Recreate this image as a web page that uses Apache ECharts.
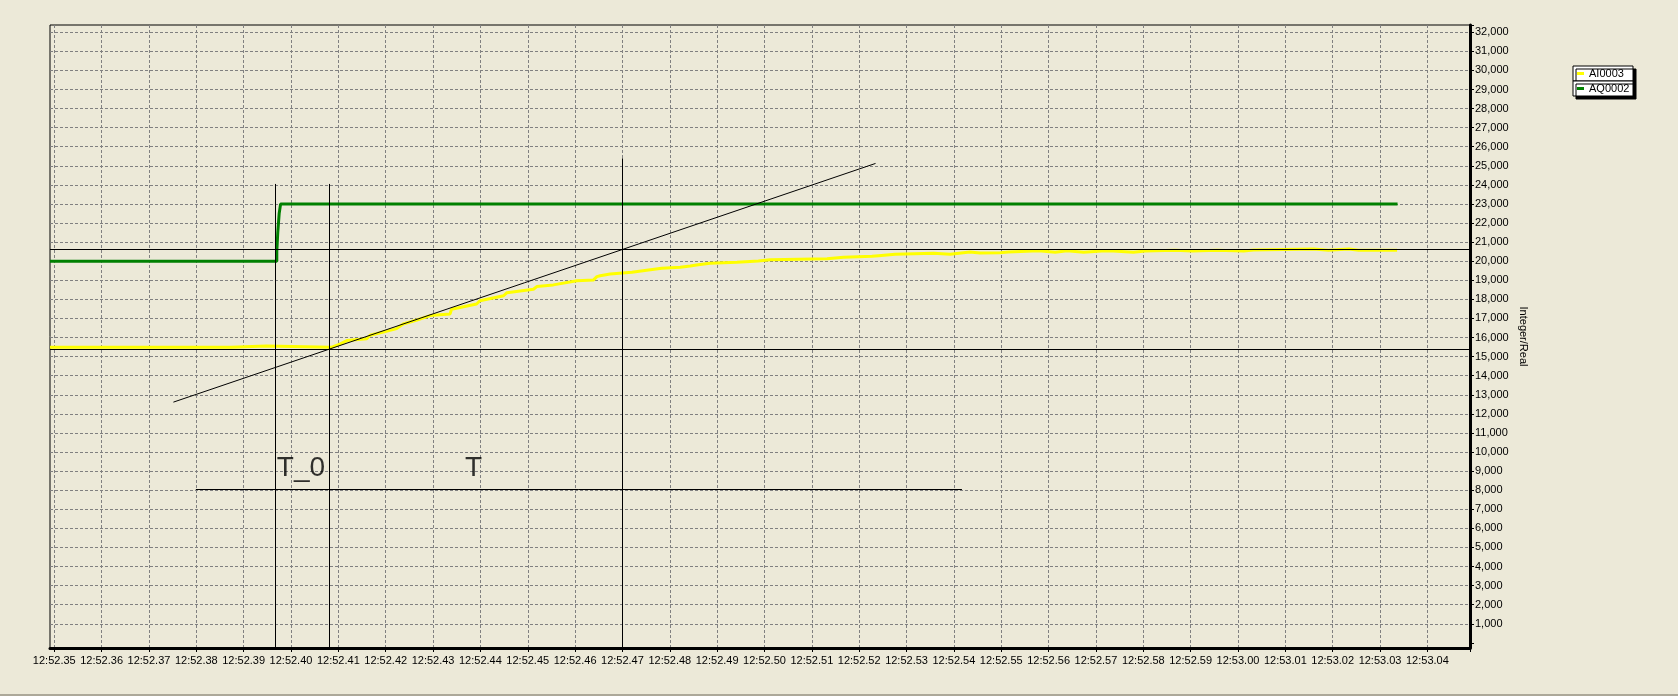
<!DOCTYPE html>
<html><head><meta charset="utf-8">
<script src="https://cdn.jsdelivr.net/npm/echarts@6/dist/echarts.min.js"></script>
<style>html,body{margin:0;padding:0;background:#ECE9D8;}#c{width:1678px;height:696px;}</style>
</head><body><div id="c"></div><script>
// time values = seconds after 12:52:00
const xTickStart = 35;
const xTickLabels = ['12:52.35','12:52.36','12:52.37','12:52.38','12:52.39','12:52.40','12:52.41','12:52.42','12:52.43','12:52.44','12:52.45','12:52.46','12:52.47','12:52.48','12:52.49','12:52.50','12:52.51','12:52.52','12:52.53','12:52.54','12:52.55','12:52.56','12:52.57','12:52.58','12:52.59','12:53.00','12:53.01','12:53.02','12:53.03','12:53.04'];
const X_MIN = 34.91, X_MAX = 64.9;
const Y_MIN = -270, Y_MAX = 32380, Y_TICK = 1000;
const seriesNames = ['AI0003', 'AQ0002'];
const axisName = 'Integer/Real';

const ai0003 = [
 [34.91,15490],[38.74,15490],[38.75,15520],[39.02,15520],[39.03,15560],[39.48,15560],[39.49,15490],
 [40.85,15490],[40.89,15420],[41.03,15660],[41.18,15840],
 [41.60,15940],[41.67,16120],[41.95,16290],[42.23,16470],[42.37,16710],[42.66,16920],[42.94,17150],
 [43.36,17240],[43.39,17480],[43.92,17760],[43.99,17930],[44.49,18190],[44.56,18350],[45.12,18530],
 [45.19,18670],[45.54,18760],[46.04,18980],[46.39,19020],[46.46,19190],[46.53,19240],[46.74,19330],
 [47.20,19420],[47.55,19540],[47.83,19630],[48.22,19680],[48.43,19750],[48.60,19820],[48.85,19890],
 [49.42,19945],[49.87,20010],[50.12,20080],[51.32,20135],[51.67,20205],[52.27,20260],[52.41,20290],
 [52.76,20365],[53.57,20415],[53.92,20365],[54.34,20485],[54.55,20430],[54.98,20450],[55.15,20485],
 [55.79,20553],[56.14,20468],[56.39,20553],[56.74,20468],[57.20,20553],[57.37,20540],[57.79,20468],
 [58.04,20540],[58.67,20573],[59.03,20540],[59.55,20573],[60.12,20540],[60.33,20590],[61.60,20643],
 [61.91,20573],[62.34,20643],[62.55,20573],[63.36,20573]
];
const aq0002 = [
 [34.91,20000],[39.70,20500],[39.72,21500],[39.75,22500],[39.78,23000],[63.37,23000]
];
// hand-drawn reference lines (data units)
const refLines = [
 [[39.675,24050],[39.675,Y_MIN]],
 [[40.814,24050],[40.814,Y_MIN]],
 [[47.0,25390],[47.0,Y_MIN]],
 [[X_MIN,20620],[X_MAX,20620]],
 [[X_MIN,15400],[X_MAX,15400]],
 [[37.516,12615],[52.345,25125]],
 [[37.99,8050],[54.17,8050]]
];
const textMarks = [[39.70,9160,'T_0'],[43.675,9160,'T']];

const FONT = "'Liberation Sans', Arial, sans-serif";
const P = {left:50, top:25, right:1470, bottom:648};
const W = P.right - P.left, H = P.bottom - P.top;
const pxX = W / (X_MAX - X_MIN), pxY = H / (Y_MAX - Y_MIN);
const g1Left = P.left + (xTickStart - X_MIN) * pxX;
const g2Height = (Y_MAX - 0) * pxY;
const dash = {color:'#808080', width:1, type:[3,2]};

const chart = echarts.init(document.getElementById('c'), null, {renderer:'canvas'});
chart.setOption({
  animation:false,
  backgroundColor:'#ECE9D8',
  textStyle:{fontFamily:FONT},
  grid:[
    {left:P.left, top:P.top, width:W, height:H, show:true, borderColor:'#000', borderWidth:1, backgroundColor:'transparent'},
    {left:g1Left, top:P.top, width:P.right-g1Left, height:H},
    {left:P.left, top:P.top, width:W, height:g2Height}
  ],
  xAxis:[
    {gridIndex:0, type:'value', min:X_MIN, max:X_MAX, axisLine:{show:true, onZero:false, lineStyle:{color:'#000', width:3}},
     axisTick:{show:false}, axisLabel:{show:false}, splitLine:{show:false}},
    {gridIndex:1, type:'value', min:xTickStart, max:X_MAX, interval:1,
     axisLine:{show:false, onZero:false},
     axisTick:{show:true, length:4, lineStyle:{color:'#000'}},
     minorTick:{show:true, splitNumber:4, length:2, lineStyle:{color:'#000'}},
     axisLabel:{show:true, margin:7, fontSize:11, color:'#000', fontFamily:FONT,
       formatter:v=>{const i=Math.round(v-xTickStart); return (Math.abs(v-xTickStart-i)<1e-6 && xTickLabels[i]) || '';}},
     splitLine:{show:true, lineStyle:dash, showMaxLine:false}, minorSplitLine:{show:false}},
    {gridIndex:2, type:'value', min:0, max:1, show:false}
  ],
  yAxis:[
    {gridIndex:0, type:'value', position:'right', min:Y_MIN, max:Y_MAX,
     axisLine:{show:true, onZero:false, lineStyle:{color:'#000', width:3}},
     axisTick:{show:false}, axisLabel:{show:false}, splitLine:{show:false},
     name:axisName, nameLocation:'middle', nameRotate:-90, nameGap:48,
     nameTextStyle:{fontSize:11, color:'#000', fontFamily:FONT}},
    {gridIndex:1, type:'value', min:0, max:1, show:false},
    {gridIndex:2, type:'value', position:'right', min:0, max:Y_MAX, interval:Y_TICK,
     axisLine:{show:false, onZero:false},
     axisTick:{show:true, length:4, lineStyle:{color:'#000'}},
     minorTick:{show:true, splitNumber:4, length:2, lineStyle:{color:'#000'}},
     axisLabel:{show:true, margin:5, fontSize:11, color:'#000', fontFamily:FONT,
       formatter:v=>(v>0 && v%Y_TICK===0) ? v.toLocaleString('en-US') : ''},
     splitLine:{show:true, lineStyle:dash, showMinLine:false, showMaxLine:false}}
  ],
  legend:[
    {data:[seriesNames[0]], left:1573, top:66, orient:'vertical', icon:'rect', itemWidth:7, itemHeight:3,
     padding:[1,2,1,4], backgroundColor:'#fff', borderColor:'#000', borderWidth:1, borderRadius:0,
     shadowColor:'#000', shadowBlur:0, shadowOffsetX:3, shadowOffsetY:3,
     textStyle:{fontSize:11, color:'#000', fontFamily:FONT, width:42, lineHeight:13}, selectedMode:false},
    {data:[seriesNames[1]], left:1573, top:81, orient:'vertical', icon:'rect', itemWidth:7, itemHeight:3,
     padding:[1,2,1,4], backgroundColor:'#fff', borderColor:'#000', borderWidth:1, borderRadius:0,
     shadowColor:'#000', shadowBlur:0, shadowOffsetX:3, shadowOffsetY:3,
     textStyle:{fontSize:11, color:'#000', fontFamily:FONT, width:42, lineHeight:13}, selectedMode:false}
  ],
  graphic:[{type:'line', shape:{x1:0,y1:695,x2:1678,y2:695}, style:{stroke:'#ACA899', lineWidth:2}, silent:true}],
  series:[
    {name:seriesNames[0], type:'line', xAxisIndex:0, yAxisIndex:0, data:ai0003, symbol:'none',
     color:'#FFFF00', lineStyle:{color:'#FFFF00', width:3}, z:2, silent:true},
    {name:seriesNames[1], type:'line', xAxisIndex:0, yAxisIndex:0, data:aq0002, step:'end', symbol:'none',
     color:'#008000', lineStyle:{color:'#008000', width:3}, z:2, silent:true},
    {type:'lines', coordinateSystem:'cartesian2d', xAxisIndex:0, yAxisIndex:0, silent:true, z:3,
     data:refLines.map(c=>({coords:c})), lineStyle:{color:'#000', width:1, opacity:1, curveness:0}},
    {type:'scatter', xAxisIndex:0, yAxisIndex:0, symbolSize:0, silent:true, z:4,
     data:textMarks.map(t=>({value:t})),
     label:{show:true, position:[0,0], align:'left', verticalAlign:'middle', fontSize:28, color:'#000', fontFamily:FONT,
       formatter:p=>p.value[2]}}
  ]
});
</script></body></html>
